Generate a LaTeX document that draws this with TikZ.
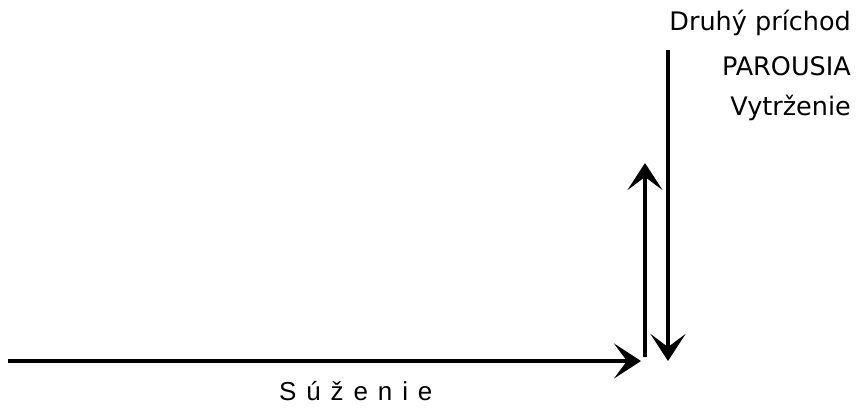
\documentclass[tikz,border=0pt]{standalone}
\usepackage{fontspec}
\setmainfont{DejaVu Sans}
\newfontfamily\labelfont{Liberation Sans}[LetterSpace=38]
\usetikzlibrary{arrows.meta}
\begin{document}
\begin{tikzpicture}[x=1pt, y=1pt,
  timeline/.style={line width=4.5pt, -{Stealth[length=27pt, width=35pt, inset=13pt]}},
  toplabel/.style={anchor=east, inner sep=0pt, font=\fontsize{25.5}{30}\selectfont}]
\useasboundingbox (0,0) rectangle (858,408);

% Points
\coordinate (start) at (8,47);
\coordinate (wrath) at (641,47);
\coordinate (rapturebase) at (645,51);
\coordinate (rapturetop) at (645,245);
\coordinate (comingtop) at (668,358);
\coordinate (comingend) at (668,47);

% Arrows
\draw[timeline] (start) -- (wrath);
\draw[timeline] (rapturebase) -- (rapturetop);
\draw[timeline] (comingtop) -- (comingend);

% Labels
\node[anchor=base west, inner sep=0pt, font=\labelfont\fontsize{26}{30}\selectfont] (suzenie) at (279,8) {Súženie};
\node[toplabel] (druhy) at (851,385) {Druhý príchod};
\node[toplabel] (parousia) at (851,342) {PAROUSIA};
\node[toplabel] (vytrzenie) at (851,300) {Vytrženie};
\end{tikzpicture}
\end{document}
